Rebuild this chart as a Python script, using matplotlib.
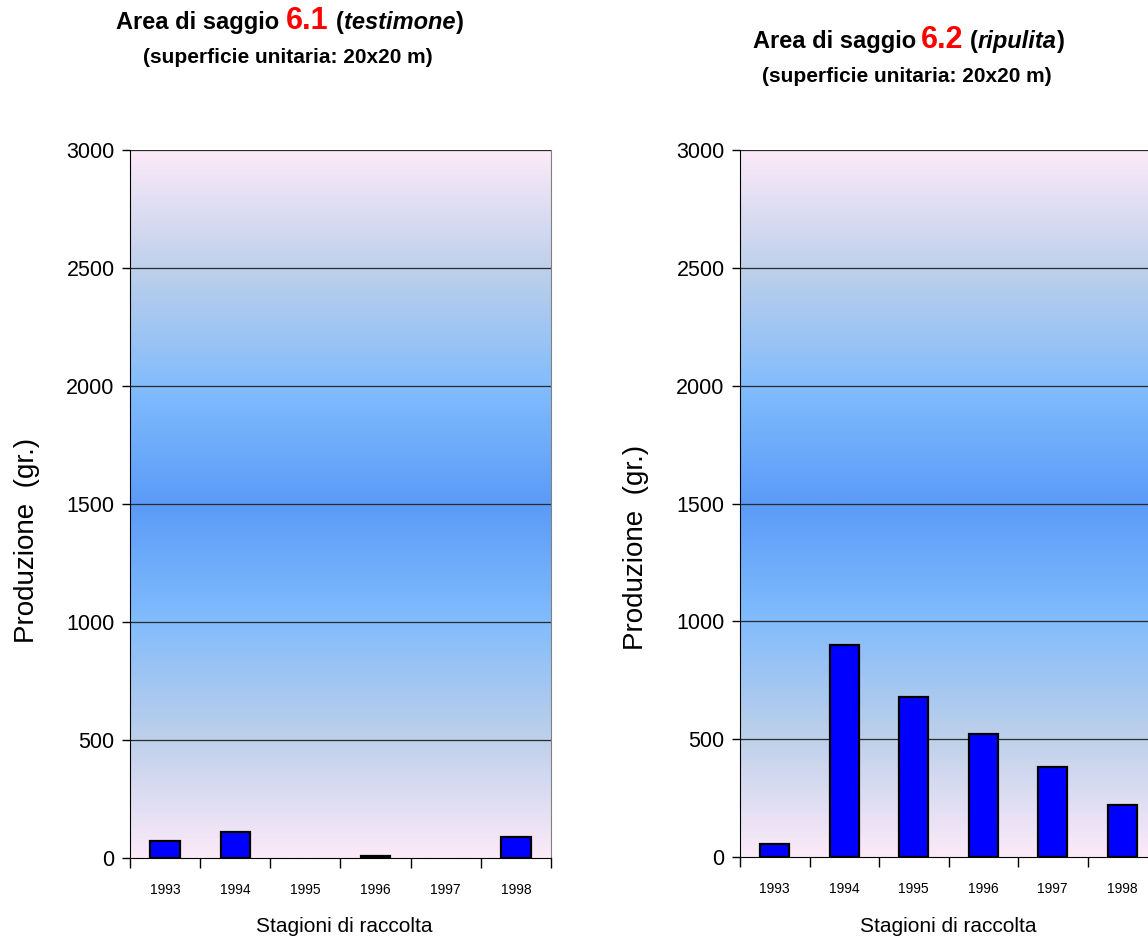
import numpy as np
import matplotlib
matplotlib.use("Agg")
import matplotlib.pyplot as plt
from matplotlib.colors import LinearSegmentedColormap

plt.rcParams['font.family'] = ['Liberation Sans', 'DejaVu Sans']

# data
seasons = ['1993', '1994', '1995', '1996', '1997', '1998']
prod_61 = [70, 110, 0, 8, 0, 90]        # 6.1 testimone
prod_62 = [55, 900, 680, 520, 380, 220]  # 6.2 ripulita
y_ticks = [0, 500, 1000, 1500, 2000, 2500, 3000]

W, H = 1148, 940
fig = plt.figure(figsize=(W / 100, H / 100), dpi=100)

# Excel-like background: pink at the edges, blue in the middle
bg_cmap = LinearSegmentedColormap.from_list(
    'bg', [(0.0, '#FCEAF8'), (0.35, '#BBCFEA'), (0.68, '#80BBFC'), (1.0, '#5B9BF8')])


def px(x0, y0, w, h):
    # pixel box (top-left origin) -> figure fraction
    return [x0 / W, 1 - (y0 + h) / H, w / W, h / H]


def draw_panel(ax, values, right_spine=True):
    n = len(values)
    yy = np.linspace(3000, 0, 400)
    v = 1 - np.abs(yy - 1500) / 1500
    ax.imshow(v[:, None], aspect='auto', cmap=bg_cmap, vmin=0, vmax=1,
              extent=[-0.5, n - 0.5, 0, 3000], zorder=0, interpolation='bilinear')
    for t in y_ticks[1:]:
        ax.axhline(t, color='#2a2a2a', lw=0.9, zorder=1)
    lws = [1.6 if val > 0 else 0 for val in values]
    ax.bar(np.arange(n), values, width=0.42, color='#0000FF',
           edgecolor='black', linewidth=lws, zorder=2)
    ax.set_xlim(-0.5, n - 0.5)
    ax.set_ylim(0, 3000)
    ax.set_yticks(y_ticks)
    ax.tick_params(axis='y', length=6, width=1, pad=5, labelsize=15.5)
    ax.set_xticks(np.arange(n))
    ax.set_xticklabels(seasons)
    ax.set_xticks(np.arange(n + 1) - 0.5, minor=True)
    ax.tick_params(axis='x', which='major', length=0, pad=18, labelsize=10)
    ax.tick_params(axis='x', which='minor', length=7, width=1)
    ax.spines['top'].set_visible(False)
    ax.spines['left'].set_color('black')
    ax.spines['bottom'].set_color('black')
    ax.spines['right'].set_visible(right_spine)
    ax.spines['right'].set_color('#808080')


ax1 = fig.add_axes(px(130, 150, 421, 708))
draw_panel(ax1, prod_61)
ax2 = fig.add_axes(px(740, 150, 417, 707))
draw_panel(ax2, prod_62, right_spine=False)

# axis titles
fig.text(344 / W, 1 - 927 / H, 'Stagioni di raccolta', ha='center', va='center', fontsize=15)
fig.text(948 / W, 1 - 927 / H, 'Stagioni di raccolta', ha='center', va='center', fontsize=15)
fig.text(27 / W, 1 - 540 / H, 'Produzione  (gr.)', rotation=90, ha='center', va='center', fontsize=20)
fig.text(636 / W, 1 - 547 / H, 'Produzione  (gr.)', rotation=90, ha='center', va='center', fontsize=20)

renderer = fig.canvas.get_renderer()


def rich_line(cx, base_y, pieces, gaps):
    # pieces drawn left to right, centred on cx, on a common baseline
    texts = [fig.text(0, 1 - base_y / H, s, va='baseline', ha='left', **kw) for s, kw in pieces]
    widths = [t.get_window_extent(renderer).width for t in texts]
    gaps = list(gaps) + [0]
    total = sum(widths) + sum(gaps)
    x = cx - total / 2
    for t, w, g in zip(texts, widths, gaps):
        t.set_x(x / W)
        x += w + g


b = dict(fontsize=17, fontweight='bold', color='black')
red = dict(fontsize=22, fontweight='bold', color='#FF0000')
bi = dict(fontsize=17, fontweight='bold', fontstyle='italic', color='black')
sub = dict(fontsize=15, fontweight='bold', color='black')

rich_line(290, 29, [('Area di saggio', b), ('6.1', red), ('(', b), ('testimone', bi), (')', b)],
          [7, 7, 0, 1])
rich_line(288, 63, [('(superficie unitaria: 20x20 m)', sub)], [])
rich_line(909, 48, [('Area di saggio', b), ('6.2', red), ('(', b), ('ripulita', bi), (')', b)],
          [5, 6, 0, 1])
rich_line(907, 82, [('(superficie unitaria: 20x20 m)', sub)], [])

fig.savefig('out.png', dpi=100)
